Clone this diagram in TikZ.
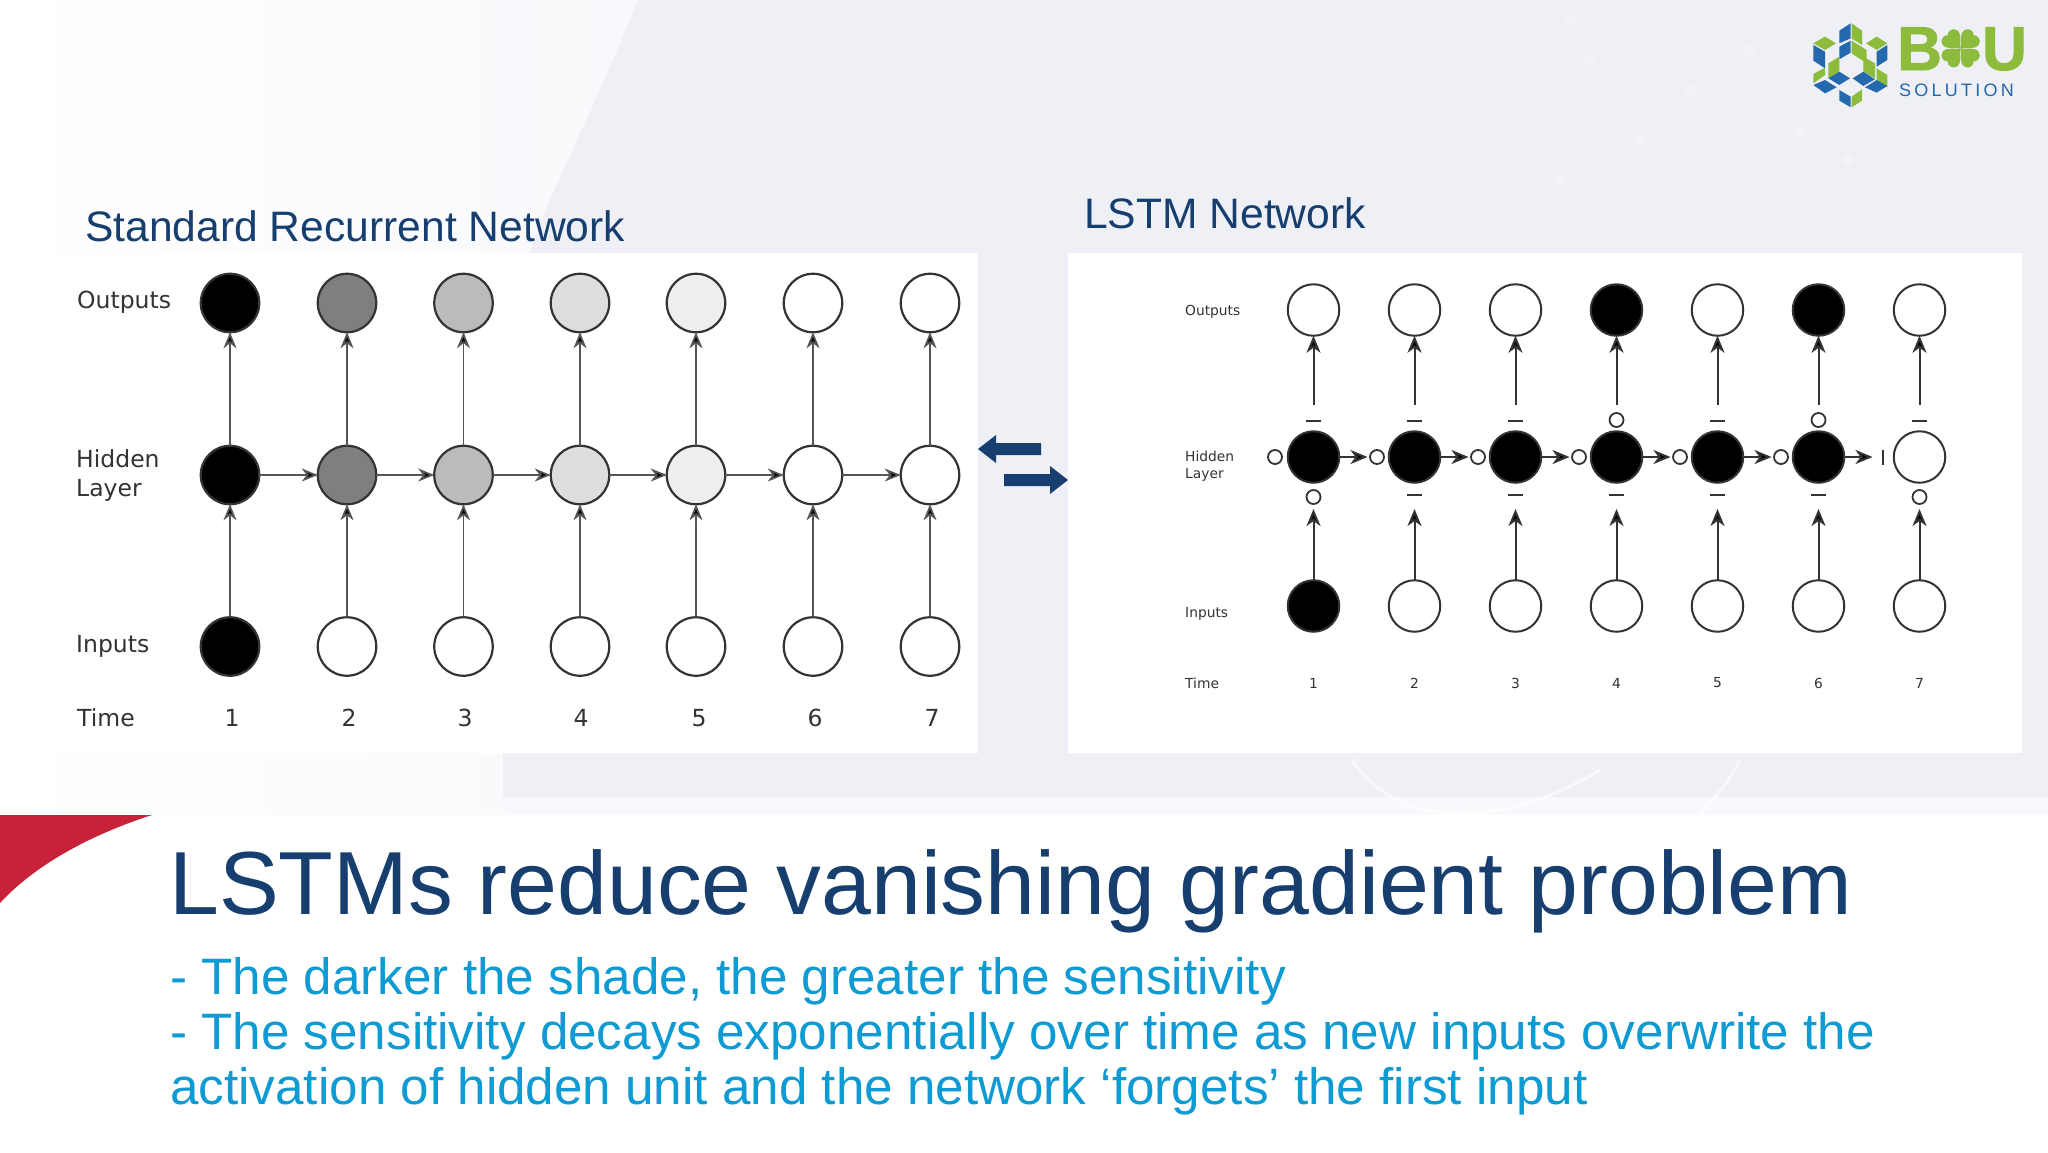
\documentclass[tikz,border=0pt]{standalone}
\usepackage{fontspec}
\setmainfont{Liberation Sans}
\newfontfamily\labelfont{DejaVu Sans}
\newfontfamily\spacedfont[LetterSpace=18]{Liberation Sans}
\newfontfamily\logofont[BoldFeatures={FakeBold=1.5}]{Liberation Sans}
\usetikzlibrary{arrows.meta}
\definecolor{navy}{HTML}{163E6E}
\definecolor{sky}{HTML}{0E9AD2}
\definecolor{crimson}{HTML}{C8213A}
\definecolor{leaf}{HTML}{8DBB3C}
\definecolor{cube}{HTML}{2468AE}
\definecolor{ink}{HTML}{333333}
\definecolor{wire}{HTML}{555555}
\definecolor{gA}{HTML}{7F7F7F}
\definecolor{gB}{HTML}{BBBBBB}
\definecolor{gC}{HTML}{DDDDDD}
\definecolor{gD}{HTML}{EEEEEE}
\definecolor{wash}{HTML}{EEF0F6}
\definecolor{washb}{HTML}{EEF0F3}
\definecolor{washc}{HTML}{F8F9FC}
\tikzset{
  big/.style={circle,draw=ink,line width=2.2pt,minimum size=58.5pt,inner sep=0pt,outer sep=0pt},
  mid/.style={circle,draw=ink,line width=2pt,minimum size=51.5pt,inner sep=0pt,outer sep=0pt},
  gatecirc/.style={circle,draw=ink,fill=white,line width=1.8pt,minimum size=14pt,inner sep=0pt,outer sep=0pt},
  gatedash/.style={rectangle,fill=ink,minimum width=15pt,minimum height=2.4pt,inner sep=0pt,outer sep=0pt},
  gatebar/.style={rectangle,fill=ink,minimum width=2.4pt,minimum height=15pt,inner sep=0pt,outer sep=0pt},
  linkL/.style={draw=wire,line width=1.7pt,-{Stealth[length=16pt,width=13pt,inset=5pt,fill=black]}},
  linkR/.style={draw=ink,line width=2pt,-{Stealth[length=17pt,width=14pt,inset=5pt,fill=black]}},
  lblL/.style={font=\labelfont\fontsize{23.5}{28}\selectfont,text=ink,anchor=west,inner sep=0pt,align=left},
  lblR/.style={font=\labelfont\fontsize{13.8}{17}\selectfont,text=ink,anchor=west,inner sep=0pt,align=left},
  numL/.style={font=\labelfont\fontsize{23.5}{28}\selectfont,text=ink,inner sep=0pt},
  numR/.style={font=\labelfont\fontsize{13.8}{17}\selectfont,text=ink,inner sep=0pt},
  head/.style={font=\fontsize{42.6}{43}\selectfont,text=navy,anchor=base west,inner sep=0pt},
  bodytext/.style={font=\fontsize{51.2}{55}\selectfont,text=sky,anchor=base west,inner sep=0pt},
  logoletter/.style={font=\logofont\bfseries\fontsize{62}{62}\selectfont,text=leaf,inner sep=0pt},
}
\begin{document}
\begin{tikzpicture}[x=1pt,y=-1pt]
\useasboundingbox (0,0) rectangle (2048,1152);
% background
\fill[white] (0,0) rectangle (2048,1152);
\shade[left color=white,right color=washc] (0,0) -- (638,0) .. controls (590,120) and (545,200) .. (530,253) -- (503,753) -- (510,815) -- (0,815) -- cycle;
\fill[wash] (638,0) .. controls (590,120) and (545,200) .. (530,253) -- (503,753) -- (507,797) -- (2048,797) -- (2048,0) -- cycle;
\fill[washb] (503,753) rectangle (2048,797);
\fill[washc] (507,797) rectangle (2048,815);
\draw[white,opacity=.6,line width=3pt] (1352,760) .. controls (1400,830) and (1500,830) .. (1600,770);
\draw[white,opacity=.6,line width=3pt] (1740,760) .. controls (1725,790) and (1710,800) .. (1700,815);
\foreach \p/\r in {1590/60,1560/180,1848/160,1570/20,1690/90,1750/50,1800/130,1640/140}{
  \fill[white,opacity=.22] (\p,\r) circle (6pt);
}
% panels
\fill[white] (52,253) rectangle (978,753);
\fill[white] (1068,253) rectangle (2022,753);
% titles
\node[head] (titleL) at (85,241.5) {Standard Recurrent Network};
\node[head] (titleR) at (1084,228) {LSTM Network};
% exchange arrows
\fill[navy] (978,449) -- (996,435) -- (996,443) -- (1041,443) -- (1041,455) -- (996,455) -- (996,463) -- cycle;
\fill[navy] (1068,480) -- (1050,466) -- (1050,474) -- (1004,474) -- (1004,486) -- (1050,486) -- (1050,494) -- cycle;
% left network
\foreach \i/\x/\f/\nx in {1/230/black/232,2/347/gA/349,3/463.5/gB/465,4/580/gC/581,5/696/gD/699,6/813/white/815,7/930/white/932}{
  \node[big,fill=\f] (lo\i) at (\x,303) {};
  \node[big,fill=\f] (lh\i) at (\x,475) {};
  \node[numL] (ln\i) at (\nx,718) {\i};
}
\foreach \i/\x/\f in {1/230/black,2/347/white,3/463.5/white,4/580/white,5/696/white,6/813/white,7/930/white}{
  \node[big,fill=\f] (li\i) at (\x,646.5) {};
  \draw[linkL] (li\i) -- (lh\i);
  \draw[linkL] (lh\i) -- (lo\i);
}
\foreach \i/\j in {1/2,2/3,3/4,4/5,5/6,6/7}{ \draw[linkL] (lh\i) -- (lh\j); }
\node[lblL] (lOut) at (77,302.5) {Outputs};
\node[lblL] (lHid) at (76,475.3) {Hidden\\[1pt]Layer};
\node[lblL] (lIn) at (76,646.3) {Inputs};
\node[lblL] (lTime) at (77,718) {Time};
% right network
\foreach \i/\x/\cO/\cH/\cI in {1/1313.5/white/black/black,2/1414.5/white/black/white,3/1515.5/white/black/white,4/1616.5/black/black/white,5/1717.5/white/black/white,6/1818.5/black/black/white,7/1919.5/white/white/white}{
  \node[mid,fill=\cO] (ro\i) at (\x,310) {};
  \node[mid,fill=\cH] (rh\i) at (\x,457) {};
  \node[mid,fill=\cI] (ri\i) at (\x,606) {};
  \node[numR] (rn\i) at (\x,683) {\i};
  \coordinate (rs\i) at (\x,405);
  \coordinate (rt\i) at (\x,509);
  \coordinate (rr\i) at (\x+54,457);
  \draw[linkR] (rs\i) -- (ro\i);
  \draw[linkR] (ri\i) -- (rt\i);
}
\foreach \i in {1,...,6}{ \draw[linkR] (rh\i) -- (rr\i); }
% gates above
\foreach \i/\x/\g/\y in {1/1313.5/gatedash/421,2/1414.5/gatedash/421,3/1515.5/gatedash/421,4/1616.5/gatecirc/420,5/1717.5/gatedash/421,6/1818.5/gatecirc/420,7/1919.5/gatedash/421}{
  \node[\g] (ga\i) at (\x,\y) {};
}
% gates below
\foreach \i/\x/\g/\y in {1/1313.5/gatecirc/497,2/1414.5/gatedash/495,3/1515.5/gatedash/495,4/1616.5/gatedash/495,5/1717.5/gatedash/495,6/1818.5/gatedash/495,7/1919.5/gatecirc/497}{
  \node[\g] (gb\i) at (\x,\y) {};
}
% gates left
\foreach \i/\x/\g in {1/1275/gatecirc,2/1377/gatecirc,3/1478/gatecirc,4/1579/gatecirc,5/1680/gatecirc,6/1781/gatecirc,7/1883/gatebar}{
  \node[\g] (gl\i) at (\x,457) {};
}
\node[lblR] (rOut) at (1185,312) {Outputs};
\node[lblR] (rHid) at (1185,466.5) {Hidden\\[0pt]Layer};
\node[lblR] (rIn) at (1185,613.5) {Inputs};
\node[lblR] (rTime) at (1185,683) {Time};
% logo
\begin{scope}[shift={(1780,0)},x=.3333pt,y=-.3333pt]
\fill[cube] (178,92)--(212,70)--(212,115)--(178,130)--cycle;
\fill[leaf] (215,70)--(246,92)--(246,135)--(215,115)--cycle;
\fill[cube] (178,140)--(212,122)--(212,158)--(178,178)--cycle;
\fill[leaf] (215,122)--(260,150)--(260,190)--(215,160)--cycle;
\fill[leaf] (100,130)--(135,110)--(168,130)--(135,150)--cycle;
\fill[cube] (100,135)--(135,155)--(135,205)--(100,182)--cycle;
\fill[leaf] (258,130)--(290,110)--(322,130)--(290,150)--cycle;
\fill[cube] (322,135)--(322,180)--(290,200)--(290,155)--cycle;
\fill[leaf] (100,222)--(135,203)--(135,225)--(100,250)--cycle;
\fill[cube] (100,255)--(135,240)--(170,262)--(135,280)--cycle;
\fill[leaf] (145,190)--(178,170)--(178,215)--(145,235)--cycle;
\fill[cube] (145,235)--(178,215)--(210,235)--(178,255)--cycle;
\fill[leaf] (250,170)--(285,190)--(285,235)--(250,215)--cycle;
\fill[cube] (218,235)--(250,215)--(285,238)--(250,258)--cycle;
\fill[leaf] (290,205)--(322,225)--(322,262)--(290,240)--cycle;
\fill[cube] (255,262)--(290,240)--(322,258)--(290,278)--cycle;
\fill[cube] (178,270)--(212,290)--(212,322)--(178,302)--cycle;
\fill[leaf] (215,290)--(246,268)--(246,302)--(215,322)--cycle;
\foreach \a in {45,135,225,315}{
  \fill[leaf,shift={(542,145)},rotate=\a] (0,0) .. controls (15,-8) and (24,-33) .. (46,-31) .. controls (64,-27) and (64,-5) .. (55,0) .. controls (64,5) and (64,27) .. (46,31) .. controls (24,33) and (15,8) .. (0,0) -- cycle;
}
\end{scope}
\node[logoletter,anchor=base west] (logoB) at (1897,70) {B};
\node[logoletter,anchor=base east] (logoU) at (2027,70) {U};
\node[font=\spacedfont\fontsize{18}{18}\selectfont,text=cube,anchor=base west,inner sep=0pt] (logoS) at (1899,96) {SOLUTION};
% red corner
\fill[crimson] (0,815) -- (152,815) .. controls (90,835) and (35,865) .. (0,903) -- cycle;
% bottom text
\node[font=\fontsize{89.6}{89}\selectfont,text=navy,anchor=base west,inner sep=0pt] (mainTitle) at (169,914) {LSTMs reduce vanishing gradient problem};
\node[bodytext] (b1) at (170,994.5) {- The darker the shade, the greater the sensitivity};
\node[bodytext] (b2) at (170,1049.5) {- The sensitivity decays exponentially over time as new inputs overwrite the};
\node[bodytext] (b3) at (170,1104.5) {activation of hidden unit and the network ‘forgets’ the first input};
\end{tikzpicture}
\end{document}
